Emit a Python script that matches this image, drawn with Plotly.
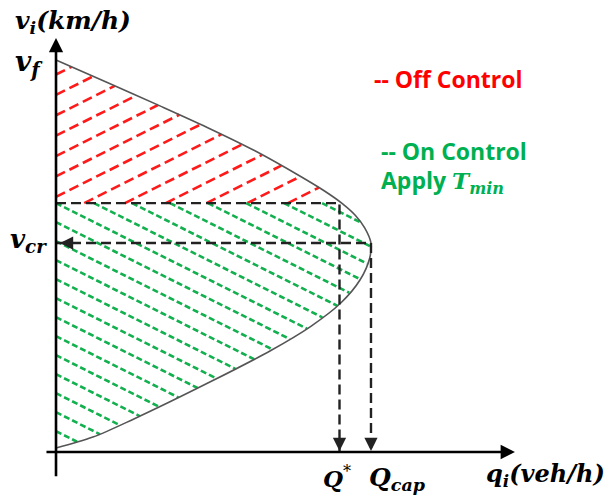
import numpy as np
import plotly.graph_objects as go

# ---------------- data ----------------
# speed-flow curve points (flow q, speed v), in diagram units (v_f = 100, Q_cap = 100)
curve_q = [0, 17, 33, 48, 63, 77, 85, 91, 95, 98, 100.0,
           99.6, 96.6, 90.4, 80.8, 68.2, 49.0, 24.4, 11.7, 0]
curve_v = [100, 94.0, 88.3, 82.8, 76.9, 70.6, 66.7, 63.3, 60.4, 57.2, 53.3,
           49.5, 44.0, 38.0, 32.0, 25.9, 17.9, 8.3, 3.8, 1.0]

v_f = 100.0      # free-flow speed
v_cr = 53.3      # critical speed
Q_cap = 100.0    # capacity
Q_star = 90.0    # controlled flow Q*
v_star = 63.5    # speed level matching Q*

axis_q_end = 145.7
axis_v_end = 105.6
axis_q_start = -3.5
axis_v_start = -6.6

# ---------------- styles ----------------
RED = "#FF1A1A"
GREEN = "#14B050"
TXT_RED = "#FF0000"
TXT_GREEN = "#00B050"
MATH = "DejaVu Serif"
SANS = "Open Sans"

# hatch pattern parameters (style)
hatch_slope = 0.402
red_step = 5.2
green_step = 4.85

cq = np.array(curve_q)
cv = np.array(curve_v)
order = np.argsort(cv)


def boundary_q(v):
    return np.interp(v, cv[order], cq[order])


def hatch_segments(offsets, slope, vlo, vhi):
    xs, ys = [], []
    q = np.linspace(0, 110, 4000)
    for c in offsets:
        v = c + slope * q
        inside = (v >= vlo) & (v <= vhi) & (v >= cv.min()) & (q <= boundary_q(v))
        idx = np.where(inside)[0]
        if len(idx) < 2:
            continue
        xs += [q[idx[0]], q[idx[-1]], None]
        ys += [v[idx[0]], v[idx[-1]], None]
    return xs, ys


red_offsets = np.arange(33.9, v_f + 1, red_step)
green_offsets = v_star + green_step * np.arange(-13, 9)

rx, ry = hatch_segments(red_offsets, hatch_slope, v_star, v_f)
gx, gy = hatch_segments(green_offsets, -hatch_slope, cv.min(), v_star)

fig = go.Figure()

fig.add_trace(go.Scatter(x=rx, y=ry, mode="lines", hoverinfo="skip",
                         line=dict(color=RED, width=2.6, dash="10px,5px")))
fig.add_trace(go.Scatter(x=gx, y=gy, mode="lines", hoverinfo="skip",
                         line=dict(color=GREEN, width=2.6, dash="6px,3px")))

# the curve
fig.add_trace(go.Scatter(x=curve_q, y=curve_v, mode="lines", hoverinfo="skip",
                         line=dict(color="#555555", width=1.6, shape="spline", smoothing=0.9)))

# black dashed guide lines
fig.add_trace(go.Scatter(x=[0, Q_star, Q_star], y=[v_star, v_star, 0], mode="lines",
                         hoverinfo="skip", line=dict(color="#222222", width=2.4, dash="10px,5px")))
fig.add_trace(go.Scatter(x=[0, Q_cap, Q_cap], y=[v_cr, v_cr, 0], mode="lines",
                         hoverinfo="skip", line=dict(color="#222222", width=2.4, dash="10px,5px")))

ann = []
# axes with arrowheads
ann.append(dict(x=axis_q_end, y=0, ax=axis_q_start, ay=0, axref="x", ayref="y",
                xref="x", yref="y", text="", showarrow=True, arrowhead=2, arrowsize=1.1,
                arrowwidth=2.6, arrowcolor="black", standoff=0))
ann.append(dict(x=0, y=axis_v_end, ax=0, ay=axis_v_start, axref="x", ayref="y",
                xref="x", yref="y", text="", showarrow=True, arrowhead=2, arrowsize=1.1,
                arrowwidth=2.6, arrowcolor="black", standoff=0))
# dashed-line arrowheads
for xq in (Q_star, Q_cap):
    ann.append(dict(x=xq, y=0, ax=0, ay=-12, xref="x", yref="y", text="", showarrow=True,
                    arrowhead=2, arrowsize=1.1, arrowwidth=2.4, arrowcolor="#222222",
                    standoff=1))
ann.append(dict(x=0, y=v_cr, ax=12, ay=0, xref="x", yref="y", text="", showarrow=True,
                arrowhead=2, arrowsize=1.1, arrowwidth=2.4, arrowcolor="#222222",
                standoff=0, xshift=4))

# math labels
ann.append(dict(x=-13.6, y=109.6, xref="x", yref="y", xanchor="left", yanchor="middle",
                showarrow=False, text="<b><i>v<sub>i</sub>(km/h)</i></b>",
                font=dict(family=MATH, size=25, color="black")))
ann.append(dict(x=-13.6, y=99.0, xref="x", yref="y", xanchor="left", yanchor="middle",
                showarrow=False, text="<b><i>v<sub>f</sub></i></b>",
                font=dict(family=MATH, size=28, color="black")))
ann.append(dict(x=-15.2, y=54.0, xref="x", yref="y", xanchor="left", yanchor="middle",
                showarrow=False, text="<b><i>v<sub>cr</sub></i></b>",
                font=dict(family=MATH, size=26, color="black")))
ann.append(dict(x=Q_star - 6.0, y=-6.3, xref="x", yref="y", xanchor="left", yanchor="middle",
                showarrow=False, text="<b><i>Q</i></b><sup>*</sup>",
                font=dict(family=MATH, size=23, color="black")))
ann.append(dict(x=Q_cap - 1.2, y=-7.0, xref="x", yref="y", xanchor="left", yanchor="middle",
                showarrow=False, text="<b><i>Q<sub>cap</sub></i></b>",
                font=dict(family=MATH, size=25, color="black")))
ann.append(dict(x=136.0, y=-5.8, xref="x", yref="y", xanchor="left", yanchor="middle",
                showarrow=False, text="<b><i>q<sub>i</sub>(veh/h)</i></b>",
                font=dict(family=MATH, size=24, color="black")))

# legend-like texts
ann.append(dict(x=100.3, y=95.2, xref="x", yref="y", xanchor="left", yanchor="middle",
                showarrow=False, text="<b>-- Off Control</b>",
                font=dict(family=SANS, size=23, color=TXT_RED)))
ann.append(dict(x=102.6, y=76.8, xref="x", yref="y", xanchor="left", yanchor="middle",
                showarrow=False, text="<b>-- On Control</b>",
                font=dict(family=SANS, size=23, color=TXT_GREEN)))
ann.append(dict(x=102.6, y=69.2, xref="x", yref="y", xanchor="left", yanchor="middle",
                showarrow=False,
                text="<b>Apply </b><span style='font-family:DejaVu Serif'><b><i>T<sub>min</sub></i></b></span>",
                font=dict(family=SANS, size=23, color=TXT_GREEN)))

fig.update_layout(
    width=613, height=495,
    margin=dict(l=0, r=0, t=0, b=0),
    paper_bgcolor="white", plot_bgcolor="white",
    showlegend=False,
    xaxis=dict(range=[-17.78, 176.83], visible=False, fixedrange=True),
    yaxis=dict(range=[-10.97, 115.31], visible=False, fixedrange=True),
    annotations=ann,
)

fig.write_html("out.html")
